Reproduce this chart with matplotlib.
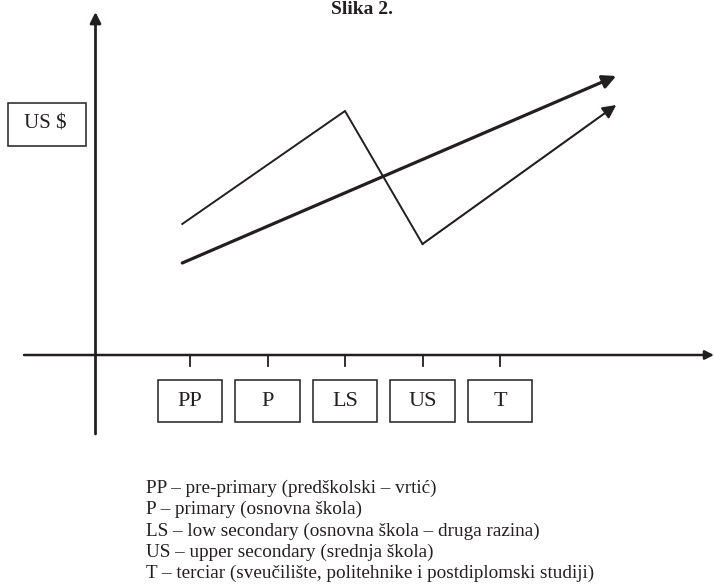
import matplotlib
matplotlib.use("Agg")
import matplotlib.pyplot as plt
from matplotlib.patches import Rectangle

# ---- data ----
categories = ["PP", "P", "LS", "US", "T"]
# thin line (US $ values, arbitrary units) at PP, LS, US, then trend end
thin_x = [-0.1, 2.0, 3.0]
thin_y = [131, 244, 111]
thin_end = (5.5, 250)
# thick line: start at PP, trend end
thick_start = (-0.1, 92)
thick_end = (5.5, 279)
y_label = "US $"
title = "Slika 2."
legend_lines = [
    "PP – pre-primary (predškolski – vrtić)",
    "P – primary (osnovna škola)",
    "LS – low secondary (osnovna škola – druga razina)",
    "US – upper secondary (srednja škola)",
    "T – terciar (sveučilište, politehnike i postdiplomski studiji)",
]

W, H = 714, 584
fig = plt.figure(figsize=(W / 100, H / 100), dpi=100)
ax = fig.add_axes([0, 0, 1, 1])
ax.set_axis_off()

# coordinate mapping: category index i -> pixel 190 + 77.5*i ; value v -> pixel 355 - v
X0, DX, Y0 = 190.0, 77.5, 355.0
ax.set_xlim((0 - X0) / DX, (W - X0) / DX)
ax.set_ylim(Y0 - H, Y0)

def px(x):
    return (x - X0) / DX

def py(y):
    return Y0 - y

serif = ["Liberation Serif", "DejaVu Serif"]
black = "#231f20"

# y axis
ax.annotate("", xy=(px(95.5), py(12)), xytext=(px(95.5), py(434)),
            arrowprops=dict(arrowstyle="-|>", color=black, lw=2.0,
                            mutation_scale=16, shrinkA=0, shrinkB=0))
# x axis
ax.annotate("", xy=(px(714), py(355)), xytext=(px(24), py(355)),
            arrowprops=dict(arrowstyle="-|>", color=black, lw=1.8,
                            mutation_scale=13, shrinkA=0, shrinkB=0))

# ticks and category boxes
box_w = 0.83
for i, c in enumerate(categories):
    ax.plot([i, i], [0, -11], color=black, lw=1.3)
    ax.add_patch(Rectangle((i - box_w / 2, py(422)), box_w, 42,
                           fill=False, edgecolor=black, lw=1.1))
    ax.text(i, py(401), c, ha="center", va="center", fontsize=16,
            family=serif, color=black)

# US $ box
ax.add_patch(Rectangle((px(7.5), py(146)), px(86) - px(7.5), 43,
                       fill=False, edgecolor=black, lw=1.1))
ax.text(px(45), py(124.5), y_label, ha="center", va="center",
        fontsize=15, family=serif, color=black)

# thin line
ax.plot(thin_x, thin_y, color=black, lw=1.4, solid_joinstyle="miter")
ax.annotate("", xy=thin_end, xytext=(thin_x[-1], thin_y[-1]),
            arrowprops=dict(arrowstyle="-|>", color=black, lw=1.5,
                            mutation_scale=20, shrinkA=0, shrinkB=0))
# thick line
ax.annotate("", xy=thick_end, xytext=thick_start,
            arrowprops=dict(arrowstyle="-|>", color=black, lw=2.3,
                            mutation_scale=20, shrinkA=0, shrinkB=0))

# title (near top edge)
ax.text(px(362), py(14), title, ha="center", va="baseline", fontsize=14,
        fontweight="bold", family=serif, color=black)

# legend text
for k, line in enumerate(legend_lines):
    ax.text(px(146), py(493 + k * 21.3), line, ha="left", va="baseline",
            fontsize=13.8, family=serif, color=black)

fig.savefig("out.png", dpi=100)
